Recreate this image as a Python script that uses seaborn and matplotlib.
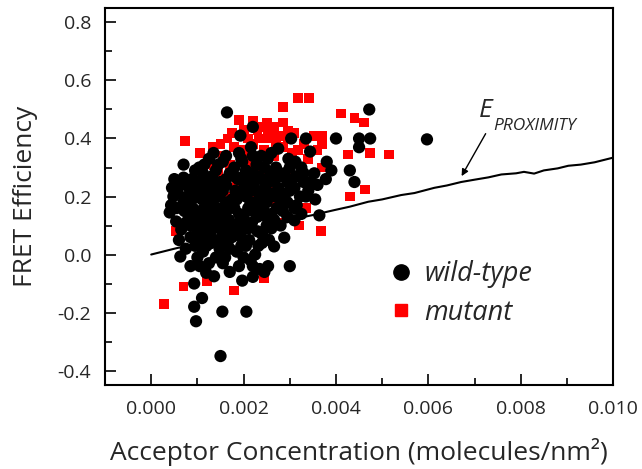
"""
FRET efficiency vs acceptor concentration (wild-type vs mutant),
with the E_proximity curve.
"""

import numpy as np
import pandas as pd
import matplotlib
matplotlib.use("Agg")
import matplotlib.pyplot as plt
from matplotlib.lines import Line2D
from matplotlib.ticker import MultipleLocator
import seaborn as sns

# === Data (x in 1e-3 molecules/nm^2) ===

wt_x = [1.64, 2.20, 1.93, 0.70, 1.97, 3.03, 3.35, 4.00, 4.50, 4.74, 4.72, 4.50, 3.44, 2.75,
        3.80, 4.30, 3.90, 4.40, 5.97, 3.64, 3.10, 2.88, 2.66, 2.66, 3.00, 3.10, 0.93, 1.10,
        0.93, 0.97, 1.54, 2.06, 1.50, 1.97, 2.20, 2.45, 1.19, 1.36, 0.58, 0.43, 0.40, 0.54,
        0.65, 0.63, 0.70, 2.16, 1.95, 1.04, 2.38, 2.97, 3.25, 3.53, 3.78, 3.40, 3.55, 3.30,
        0.75, 0.85, 2.53, 1.70, 1.25,
        1.25, 1.45, 1.62, 1.80, 2.05, 2.28, 2.52, 2.70, 2.88, 3.12, 1.12,
        0.88, 1.05, 1.32, 1.50, 1.70, 1.88, 2.12, 2.32, 2.48, 2.66, 2.95, 3.15, 3.45, 1.20,
        0.78, 0.95, 1.10, 1.38, 1.55, 1.75, 1.95, 2.18, 2.40, 2.58, 2.80, 3.00, 3.22, 1.28, 2.28,
        0.72, 0.90, 1.08, 1.22, 1.42, 1.60, 1.80, 2.00, 2.20, 2.42, 2.60, 2.85, 1.50, 1.90,
        0.85, 1.00, 1.18, 1.35, 1.55, 1.72, 2.10, 2.30, 2.50, 1.25, 1.95,
        0.95, 1.12, 1.30, 1.48, 1.65, 1.85, 2.05, 2.25, 2.40, 1.40,
        1.05, 1.55, 1.90, 2.15, 2.35,
        1.35, 1.55, 1.90, 2.45, 2.60, 3.00, 2.20,
        0.95, 1.15, 1.40, 1.62, 1.80, 2.00, 2.20, 2.40, 2.58, 2.80, 3.05, 3.30, 3.60,
        0.82, 1.00, 1.15, 1.28, 1.45, 1.62, 1.82, 2.02, 2.22, 2.40, 2.55, 2.75, 2.90, 3.10, 3.35, 0.65,
        0.70, 0.88, 1.02, 1.20, 1.35, 1.48, 1.65, 1.85, 2.05, 2.15, 2.35, 2.50, 2.68, 2.95, 3.15, 1.58,
        0.80, 0.98, 1.15, 1.32, 1.50, 1.68, 1.70, 1.90, 2.10, 2.30, 2.50, 2.72, 2.95, 3.25,
        0.75, 0.92, 1.08, 1.28, 1.45, 1.62, 1.82, 1.98, 2.18, 2.40, 2.60, 2.80, 1.15, 1.75,
        0.85, 1.05, 1.20, 1.38, 1.55, 1.70, 1.95, 2.12, 2.32, 2.55, 1.00, 1.60, 2.00, 2.20,
        0.50, 0.45, 0.55, 0.60, 0.48]
wt_y = [0.49, 0.44, 0.41, 0.31, 0.32, 0.40, 0.40, 0.40, 0.40, 0.40, 0.50, 0.37, 0.355, 0.365,
        0.32, 0.29, 0.29, 0.25, 0.397, 0.135, 0.118, 0.058, 0.028, 0.12, -0.04, 0.16, -0.10, -0.15,
        -0.18, -0.23, -0.197, -0.197, -0.35, -0.09, -0.077, -0.06, -0.063, -0.075, 0.21, 0.17, 0.145, 0.114,
        0.086, -0.007, 0.265, 0.37, 0.33, 0.30, 0.34, 0.33, 0.30, 0.28, 0.26, 0.22, 0.19, 0.25,
        0.02, -0.04, -0.04, -0.06, -0.03,
        0.33, 0.31, 0.34, 0.30, 0.29, 0.31, 0.33, 0.30, 0.28, 0.32, 0.28,
        0.26, 0.24, 0.27, 0.25, 0.28, 0.26, 0.25, 0.27, 0.24, 0.26, 0.25, 0.27, 0.25, 0.22,
        0.20, 0.22, 0.19, 0.21, 0.22, 0.19, 0.21, 0.22, 0.20, 0.21, 0.19, 0.22, 0.20, 0.18, 0.18,
        0.15, 0.16, 0.13, 0.15, 0.16, 0.14, 0.16, 0.13, 0.15, 0.16, 0.14, 0.15, 0.12, 0.11,
        0.10, 0.08, 0.10, 0.09, 0.07, 0.10, 0.09, 0.08, 0.10, 0.06, 0.06,
        0.03, 0.01, 0.04, 0.02, 0.04, 0.01, 0.03, 0.00, 0.04, -0.01,
        -0.04, -0.03, -0.04, -0.02, -0.05,
        0.35, 0.32, 0.35, 0.30, 0.35, 0.30, 0.34,
        0.29, 0.31, 0.29, 0.26, 0.27, 0.27, 0.28, 0.26, 0.28, 0.27, 0.26, 0.28, 0.24,
        0.23, 0.25, 0.26, 0.24, 0.23, 0.24, 0.22, 0.24, 0.24, 0.22, 0.25, 0.23, 0.21, 0.23, 0.20, 0.24,
        0.18, 0.19, 0.20, 0.20, 0.19, 0.20, 0.18, 0.19, 0.20, 0.18, 0.20, 0.18, 0.20, 0.18, 0.17, 0.165,
        0.14, 0.15, 0.16, 0.13, 0.15, 0.12, 0.16, 0.14, 0.16, 0.13, 0.13, 0.16, 0.13, 0.14,
        0.11, 0.12, 0.10, 0.11, 0.10, 0.09, 0.08, 0.10, 0.11, 0.07, 0.09, 0.10, 0.07, 0.06,
        0.06, 0.05, 0.03, 0.05, 0.04, 0.02, 0.03, 0.05, 0.03, 0.05, -0.01, -0.01, -0.01, -0.04,
        0.26, 0.23, 0.16, 0.05, 0.20]

mut_x = [0.74, 1.06, 1.34, 1.56, 1.90, 2.50, 2.86, 3.18, 3.42, 2.86, 2.97, 2.53, 1.95, 2.34,
         2.55, 2.75, 1.23, 3.18, 3.53, 4.10, 4.40, 4.60, 3.70, 3.70, 4.26, 4.74, 5.15, 3.70,
         4.30, 4.63, 3.68, 3.20, 2.80, 0.70, 0.28, 1.20, 1.80, 2.45, 0.70, 0.54,
         1.45, 1.70, 2.10, 2.25, 2.45, 2.65, 2.85, 3.05, 2.40, 2.60, 1.85, 1.65, 1.15, 2.15,
         2.70, 1.40, 1.00, 1.75, 2.10, 2.30, 0.85, 1.30, 3.35, 3.00,
         1.50, 1.65, 1.80, 2.00, 2.20, 2.40, 2.65, 2.70, 2.95, 3.10, 3.30, 2.05, 1.35, 1.10,
         3.40, 3.60, 2.20]
mut_y = [0.39, 0.35, 0.37, 0.34, 0.465, 0.455, 0.51, 0.54, 0.54, 0.455, 0.425, 0.425, 0.36, 0.40,
         0.40, 0.41, 0.33, 0.36, 0.41, 0.486, 0.47, 0.455, 0.41, 0.38, 0.345, 0.35, 0.345, 0.30,
         0.20, 0.224, 0.08, 0.10, 0.11, -0.11, -0.17, -0.093, -0.124, -0.08, 0.155, 0.08,
         0.28, 0.31, 0.35, 0.30, 0.36, 0.34, 0.37, 0.35, 0.28, 0.23, 0.24, 0.20, 0.12, 0.19,
         0.18, 0.05, 0.12, 0.42, 0.40, 0.43, 0.20, 0.24, 0.16, 0.28,
         0.38, 0.40, 0.37, 0.43, 0.38, 0.44, 0.44, 0.38, 0.40, 0.42, 0.38, 0.32, 0.31, 0.27,
         0.33, 0.36, 0.46]

# E_proximity curve
prox_x = [0.00, 0.25, 0.50, 0.90, 1.20, 1.50, 2.00, 2.50, 3.00, 3.25, 3.50, 3.96, 4.30, 4.70,
          5.00, 5.41, 5.70, 6.13, 6.40, 6.71, 7.00, 7.30, 7.58, 7.90, 8.07, 8.29, 8.50, 8.80,
          9.03, 9.30, 9.60, 10.00]
prox_y = [0.000, 0.010, 0.020, 0.035, 0.045, 0.058, 0.078, 0.096, 0.113, 0.128, 0.136, 0.153,
          0.165, 0.182, 0.190, 0.205, 0.212, 0.230, 0.238, 0.250, 0.258, 0.266, 0.276, 0.280,
          0.285, 0.279, 0.290, 0.297, 0.306, 0.310, 0.318, 0.334]

wt = pd.DataFrame({"x": np.array(wt_x) * 1e-3, "y": wt_y})
mut = pd.DataFrame({"x": np.array(mut_x) * 1e-3, "y": mut_y})
prox = pd.DataFrame({"x": np.array(prox_x) * 1e-3, "y": prox_y})

# === Plot ===

sns.set_style("white")
plt.rcParams["font.family"] = ["Open Sans", "DejaVu Sans"]

fig = plt.figure(figsize=(6.42, 4.69), dpi=100)
ax = fig.add_axes([0.1636, 0.179, 0.955 - 0.1636, 0.983 - 0.179])

sns.lineplot(data=prox, x="x", y="y", color="black", linewidth=1.5, ax=ax, zorder=1)
sns.scatterplot(data=mut, x="x", y="y", marker="s", s=50, color="#ff0000",
                edgecolor="none", linewidth=0, ax=ax, zorder=2)
sns.scatterplot(data=wt, x="x", y="y", marker="o", s=78, color="black",
                edgecolor="none", linewidth=0, ax=ax, zorder=3)

ax.set_xlim(-0.001, 0.010)
ax.set_ylim(-0.45, 0.85)
ax.xaxis.set_major_locator(MultipleLocator(0.002))
ax.xaxis.set_minor_locator(MultipleLocator(0.001))
ax.yaxis.set_major_locator(MultipleLocator(0.2))
ax.yaxis.set_minor_locator(MultipleLocator(0.1))
ax.xaxis.set_major_formatter(plt.FuncFormatter(lambda v, p: f"{v:.3f}"))
ax.yaxis.set_major_formatter(plt.FuncFormatter(lambda v, p: f"{v:.1f}"))

ax.tick_params(which="both", direction="in", top=False, right=False,
               bottom=True, left=True, width=1.4, labelsize=14)
ax.tick_params(which="major", length=8)
ax.tick_params(which="minor", length=5)
ax.tick_params(axis="x", pad=11)
ax.tick_params(axis="y", pad=10)
for sp in ax.spines.values():
    sp.set_linewidth(1.5)
    sp.set_color("black")

ax.set_xlabel("Acceptor Concentration (molecules/nm²)", fontsize=19, labelpad=14)
ax.set_ylabel("FRET Efficiency", fontsize=19, labelpad=14)

# E_proximity label and arrow
ax.annotate("", xy=(0.00669, 0.262), xytext=(0.00727, 0.425),
            arrowprops=dict(arrowstyle="-|>", color="black", lw=1.0, mutation_scale=10))
ax.text(0.00710, 0.474, "E", fontsize=19, style="italic", ha="left", va="baseline")
ax.text(0.00740, 0.43, "PROXIMITY", fontsize=12.5, style="italic", ha="left", va="baseline")

handles = [
    Line2D([], [], marker="o", linestyle="none", color="black", markersize=11),
    Line2D([], [], marker="s", linestyle="none", color="#ff0000", markersize=9),
]
ax.legend(handles, ["wild-type", "mutant"], loc="upper left", bbox_to_anchor=(0.53, 0.36),
          frameon=False, prop={"size": 19.5, "style": "italic"}, handletextpad=0.25,
          labelspacing=0.4, borderaxespad=0, handlelength=1.2)

fig.savefig("out.png", dpi=100)
